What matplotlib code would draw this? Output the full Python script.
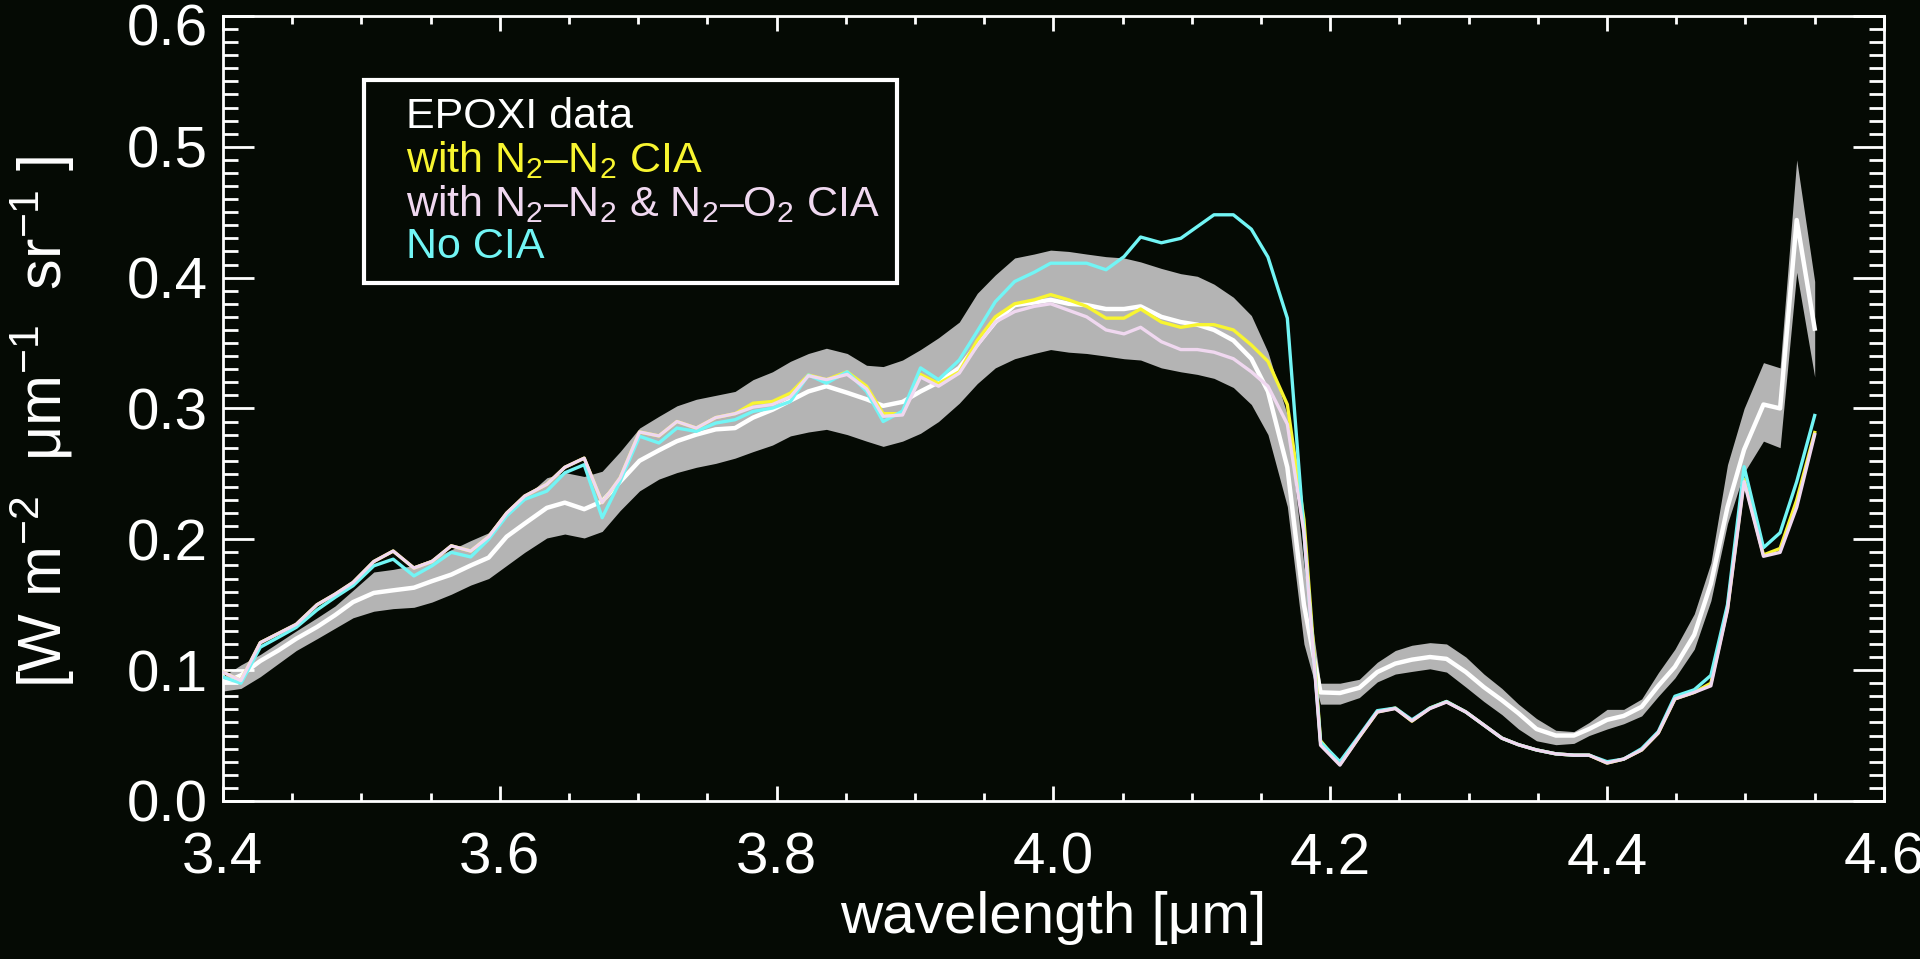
"""EPOXI 3.4-4.6 um spectrum of Earth compared with models with / without CIA."""
import matplotlib
matplotlib.use("Agg")
import matplotlib.pyplot as plt
from matplotlib.lines import Line2D
from matplotlib.ticker import MultipleLocator, FormatStrFormatter
from matplotlib.transforms import ScaledTranslation

wavelength = [
    3.400, 3.413, 3.427, 3.440, 3.453, 3.468, 3.481, 3.494, 3.509, 3.523, 3.538, 3.551, 3.565, 3.579, 3.592, 3.605, 3.618,
    3.634, 3.647, 3.661, 3.674, 3.687, 3.701, 3.715, 3.728, 3.742, 3.756, 3.770, 3.783, 3.797, 3.810, 3.823, 3.836,
    3.851, 3.865, 3.877, 3.891, 3.904, 3.917, 3.932, 3.945, 3.958, 3.972, 3.986, 3.998, 4.011, 4.024, 4.038, 4.051, 4.063,
    4.078, 4.092, 4.104, 4.116, 4.130, 4.143, 4.155, 4.169, 4.181,
    4.193, 4.207, 4.221, 4.234, 4.247, 4.259, 4.272, 4.284, 4.298, 4.311, 4.324, 4.336, 4.349, 4.363, 4.376, 4.387, 4.400,
    4.412, 4.425, 4.437, 4.449, 4.463, 4.475, 4.487, 4.499, 4.513, 4.525, 4.537, 4.550,
]

epoxi = [
    0.090, 0.096, 0.107, 0.115, 0.124, 0.133, 0.142, 0.152, 0.159, 0.161, 0.163, 0.168, 0.173, 0.180, 0.186, 0.202, 0.212,
    0.224, 0.228, 0.223, 0.229, 0.244, 0.260, 0.268, 0.275, 0.280, 0.284, 0.285, 0.293, 0.299, 0.306, 0.313, 0.317,
    0.312, 0.307, 0.302, 0.305, 0.313, 0.320, 0.331, 0.349, 0.366, 0.379, 0.381, 0.383, 0.380, 0.379, 0.376, 0.376, 0.378,
    0.370, 0.366, 0.364, 0.360, 0.352, 0.338, 0.313, 0.255, 0.150,
    0.083, 0.0825, 0.0865, 0.0985, 0.105, 0.108, 0.110, 0.1086, 0.0985, 0.087, 0.077, 0.067, 0.055, 0.050, 0.050, 0.055, 0.062,
    0.065, 0.072, 0.088, 0.1025, 0.127, 0.166, 0.2245, 0.2685, 0.303, 0.300, 0.444, 0.361,
]

epoxi_lo = [
    0.084, 0.086, 0.095, 0.105, 0.115, 0.124, 0.132, 0.140, 0.145, 0.147, 0.148, 0.152, 0.158, 0.165, 0.170, 0.180, 0.190,
    0.201, 0.204, 0.201, 0.206, 0.222, 0.237, 0.246, 0.251, 0.255, 0.258, 0.262, 0.267, 0.272, 0.279, 0.282, 0.284,
    0.280, 0.275, 0.271, 0.275, 0.281, 0.290, 0.304, 0.319, 0.331, 0.338, 0.342, 0.345, 0.343, 0.342, 0.340, 0.338, 0.337,
    0.331, 0.328, 0.326, 0.323, 0.316, 0.303, 0.280, 0.225, 0.120,
    0.074, 0.074, 0.079, 0.091, 0.097, 0.099, 0.101, 0.0985, 0.087, 0.076, 0.066, 0.055, 0.046, 0.043, 0.044, 0.050, 0.055,
    0.059, 0.065, 0.080, 0.094, 0.116, 0.153, 0.212, 0.251, 0.275, 0.270, 0.404, 0.324,
]

epoxi_hi = [
    0.095, 0.104, 0.112, 0.121, 0.130, 0.140, 0.149, 0.161, 0.175, 0.177, 0.180, 0.185, 0.192, 0.199, 0.205, 0.222, 0.232,
    0.247, 0.251, 0.248, 0.252, 0.267, 0.285, 0.294, 0.302, 0.307, 0.310, 0.313, 0.322, 0.328, 0.336, 0.342, 0.346,
    0.342, 0.333, 0.332, 0.337, 0.345, 0.354, 0.366, 0.388, 0.402, 0.415, 0.418, 0.421, 0.420, 0.418, 0.416, 0.415, 0.412,
    0.407, 0.403, 0.401, 0.395, 0.385, 0.371, 0.343, 0.295, 0.180,
    0.090, 0.090, 0.093, 0.106, 0.115, 0.119, 0.121, 0.120, 0.110, 0.097, 0.086, 0.074, 0.063, 0.054, 0.053, 0.060, 0.070,
    0.070, 0.078, 0.098, 0.116, 0.143, 0.182, 0.257, 0.300, 0.335, 0.331, 0.490, 0.397,
]

n2n2 = [
    0.0985, 0.092, 0.121, 0.128, 0.135, 0.150, 0.158, 0.167, 0.183, 0.191, 0.178, 0.183, 0.195, 0.191, 0.202, 0.220, 0.233,
    0.242, 0.255, 0.262, 0.228, 0.247, 0.282, 0.279, 0.290, 0.285, 0.293, 0.296, 0.304, 0.3053, 0.3117, 0.3256, 0.322,
    0.328, 0.317, 0.296, 0.296, 0.326, 0.319, 0.328, 0.352, 0.370, 0.380, 0.383, 0.387, 0.383, 0.378, 0.369, 0.369, 0.376,
    0.366, 0.362, 0.364, 0.364, 0.360, 0.3485, 0.336, 0.303, 0.215,
    0.046, 0.028, 0.049, 0.068, 0.071, 0.061, 0.071, 0.076, 0.068, 0.058, 0.048, 0.043, 0.039, 0.036, 0.035, 0.035, 0.029,
    0.032, 0.039, 0.052, 0.078, 0.083, 0.090, 0.147, 0.246, 0.188, 0.193, 0.230, 0.2816,
]

n2n2_n2o2 = [
    0.0985, 0.092, 0.121, 0.128, 0.135, 0.150, 0.158, 0.167, 0.183, 0.191, 0.178, 0.183, 0.195, 0.191, 0.202, 0.220, 0.233,
    0.242, 0.255, 0.262, 0.228, 0.247, 0.282, 0.279, 0.290, 0.285, 0.293, 0.296, 0.301, 0.303, 0.309, 0.325, 0.322,
    0.326, 0.315, 0.294, 0.295, 0.324, 0.317, 0.327, 0.348, 0.366, 0.374, 0.378, 0.380, 0.375, 0.370, 0.360, 0.357, 0.362,
    0.351, 0.345, 0.345, 0.343, 0.338, 0.328, 0.317, 0.288, 0.205,
    0.0426, 0.0274, 0.049, 0.068, 0.0706, 0.0612, 0.0706, 0.0756, 0.068, 0.058, 0.048, 0.043, 0.039, 0.036, 0.035, 0.035, 0.029,
    0.032, 0.039, 0.052, 0.078, 0.083, 0.088, 0.146, 0.244, 0.187, 0.190, 0.2245, 0.280,
]

no_cia = [
    0.0947, 0.090, 0.1175, 0.125, 0.1327, 0.146, 0.1556, 0.1645, 0.1797, 0.1848, 0.172, 0.1797, 0.190, 0.1865, 0.200, 0.2178, 0.2305,
    0.2368, 0.2508, 0.257, 0.2165, 0.2444, 0.2787, 0.2736, 0.285, 0.2825, 0.2888, 0.2914, 0.2977, 0.3003, 0.3053, 0.3256, 0.3193,
    0.328, 0.313, 0.290, 0.298, 0.331, 0.322, 0.337, 0.359, 0.3815, 0.397, 0.404, 0.411, 0.411, 0.411, 0.406, 0.416, 0.431,
    0.4266, 0.430, 0.439, 0.448, 0.448, 0.437, 0.4157, 0.369, 0.205,
    0.045, 0.030, 0.050, 0.069, 0.071, 0.062, 0.071, 0.076, 0.068, 0.058, 0.048, 0.043, 0.039, 0.036, 0.035, 0.035, 0.030,
    0.032, 0.040, 0.053, 0.080, 0.085, 0.096, 0.150, 0.2555, 0.1936, 0.205, 0.244, 0.2946,
]

legend_labels = [
    "EPOXI data",
    "with N$_2$\u2013N$_2$ CIA",
    "with N$_2$\u2013N$_2$ & N$_2$\u2013O$_2$ CIA",
    "No CIA",
]

BG = "#050a04"
WHITE = "#ffffff"
YELLOW = "#f8f530"
PINK = "#f0d8f0"
CYAN = "#72f5f5"
BAND = "#b4b4b4"


def main() -> None:
    plt.rcParams["font.family"] = ["Liberation Sans", "DejaVu Sans"]
    plt.rcParams["mathtext.fontset"] = "custom"
    plt.rcParams["mathtext.rm"] = "Liberation Sans"
    plt.rcParams["mathtext.it"] = "Liberation Sans:italic"
    plt.rcParams["mathtext.default"] = "regular"

    fig = plt.figure(figsize=(19.2, 9.59), dpi=100, facecolor=BG)
    ax = fig.add_axes([0.1161, 0.1648, 0.8651, 0.8186], facecolor=BG)

    ax.fill_between(wavelength, epoxi_lo, epoxi_hi, color=BAND, linewidth=0, zorder=1)
    ax.plot(wavelength, epoxi, color=WHITE, linewidth=3.2, zorder=2)
    ax.plot(wavelength, n2n2, color=YELLOW, linewidth=2.4, zorder=3)
    ax.plot(wavelength, no_cia, color=CYAN, linewidth=2.4, zorder=4)
    ax.plot(wavelength, n2n2_n2o2, color=PINK, linewidth=2.4, zorder=5)

    ax.set_xlim(3.4, 4.6)
    ax.set_ylim(0.0, 0.6)

    ax.xaxis.set_major_locator(MultipleLocator(0.2))
    ax.xaxis.set_minor_locator(MultipleLocator(0.05))
    ax.yaxis.set_major_locator(MultipleLocator(0.1))
    ax.yaxis.set_minor_locator(MultipleLocator(0.01))
    ax.xaxis.set_major_formatter(FormatStrFormatter("%.1f"))
    ax.yaxis.set_major_formatter(FormatStrFormatter("%.1f"))

    ax.tick_params(which="both", direction="in", top=True, right=True,
                   colors=WHITE, width=2.0, labelsize=42)
    ax.tick_params(axis="x", which="major", length=11, pad=22)
    ax.tick_params(axis="x", which="minor", length=5.5)
    ax.tick_params(axis="y", which="major", length=22, pad=11)
    ax.tick_params(axis="y", which="minor", length=11)
    for sp in ax.spines.values():
        sp.set_color(WHITE)
        sp.set_linewidth(2.0)

    ax.set_xlabel("wavelength [\u03bcm]", color=WHITE, fontsize=42)
    ax.set_ylabel("[W m$^{-2}$  \u03bcm$^{-1}$  sr$^{-1}$ ]", color=WHITE, fontsize=44)
    ax.xaxis.set_label_coords(0.5, -0.115)
    ax.yaxis.set_label_coords(-0.088, 0.483)

    handles = [Line2D([], [], linestyle="none") for _ in legend_labels]
    leg = ax.legend(handles, legend_labels, loc="upper left",
                    bbox_to_anchor=(0.0849, 0.918), borderaxespad=0,
                    fontsize=31, handlelength=0, handletextpad=0.6,
                    labelspacing=0.05, borderpad=0.38, fancybox=False,
                    frameon=True, facecolor=BG, edgecolor=WHITE, framealpha=1)
    leg.get_frame().set_linewidth(3.0)
    for txt, col in zip(leg.get_texts(), [WHITE, YELLOW, PINK, CYAN]):
        txt.set_color(col)

    # keep the top "0.6" label inside the canvas, as in the original
    fig.canvas.draw()
    for lbl in ax.get_yticklabels():
        if lbl.get_text() == "0.6":
            lbl.set_transform(lbl.get_transform()
                              + ScaledTranslation(0, -6 / 72, fig.dpi_scale_trans))

    fig.savefig("out.png", dpi=100, facecolor=BG)


if __name__ == "__main__":
    main()
